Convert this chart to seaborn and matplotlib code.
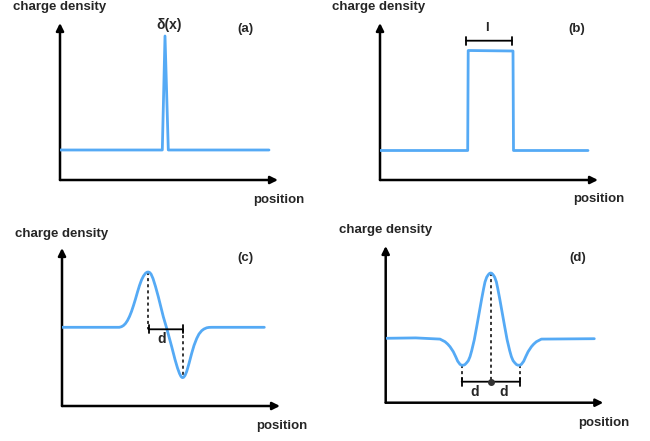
import matplotlib
matplotlib.use("Agg")
import matplotlib.pyplot as plt
import seaborn as sns
import pandas as pd

sns.set_style("white")
plt.rcParams['font.family'] = ['Liberation Sans', 'DejaVu Sans']

# ---------------- data (arbitrary units) ----------------
a_pos = [0, 102.3, 105, 108.3, 209]
a_dens = [30, 30, 144, 30, 30]

b_pos = [0, 87.7, 88.2, 133.0, 133.5, 208]
b_dens = [29.5, 29.5, 129.5, 129.0, 29.5, 29.5]

c_pos = [0, 57.3, 59.5, 61.5, 63.5, 65.5, 67.5, 69.5, 71.5, 73.5, 75.5, 77.5, 79.5,
         81.5, 83.5, 85, 86.3, 87.5, 89, 91, 93.5, 96.3, 99, 101.3, 104.7, 109.7,
         113, 115.5, 117.5, 119, 120.3, 121.5, 123, 124.7, 127, 129.7, 132, 134.7,
         137, 139.7, 142, 144.7, 147, 149.7, 202.3]
c_dens = [78.7, 78.7, 79.3, 80.5, 82.5, 85.5, 89.5, 94.5, 100.5, 107, 114, 120.5, 126,
          130, 132.7, 133.8, 134, 133.6, 132, 127.5, 119.5, 109.3, 98.5, 89.3, 77.7, 59.3,
          46.5, 38, 32.5, 29.5, 28.4, 28.6, 30.5, 34.5, 42.5, 52.7, 60.5, 67.5,
          72, 75.3, 77, 78.2, 78.6, 78.7, 78.7]

d_pos = [0, 30, 54.3, 59.3, 62, 64.3, 67.6, 70, 72, 74.3, 76, 78, 79.3, 81, 82.6,
         84.3, 86, 88.6, 91, 93.5, 96, 98, 99.3, 101, 102.6, 104, 105,
         106, 107.4, 109, 110.7, 112, 114, 116.5, 119, 121.4, 124, 125.7, 127.4,
         129, 130.7, 132, 134, 135.7, 138, 140, 142.4, 145.7, 148, 150.7, 155.7, 208.6]
d_dens = [64.4, 64.8, 63.6, 61, 58.6, 56, 51, 46, 41.5, 38.4, 37.4, 37.6, 38.2, 40, 42,
          46, 52, 63, 76, 90, 104, 114.5, 120.7, 125.5, 128, 129.4, 129.7,
          129.4, 128, 125.5, 120.7, 114.5, 104, 90, 76, 63, 52, 46, 42,
          40, 38.2, 37.6, 37.4, 38.4, 41.5, 46, 51, 56, 58.6, 61, 63.6, 64]

panel_labels = ["(a)", "(b)", "(c)", "(d)"]
ylabel_text = "charge density"
xlabel_text = "position"

# bracket / guide values
b_bracket = [86, 132, 139.3]          # x0, x1, y
c_bracket = [86.5, 120.5, 76.7]       # x0, x1, y
c_peak = [86.3, 134]
c_trough = [120.5, 28.4]
d_bracket = [76, 134, 21]
d_peak = [105, 129.7]
d_troughs = [[76, 37.4], [134, 37.4]]

# ---------------- layout ----------------
W, H = 650, 441
fig = plt.figure(figsize=(6.5, 4.41), dpi=100)
fig.patch.set_facecolor("white")

# origin x, origin y (pixels from top), width, height
boxes = [(60, 180, 218, 157), (380, 180, 218, 157),
         (62, 406, 218, 158), (385.7, 402.7, 217.6, 156.7)]

BLUE = "#55AAF5"
FS = 9.5

axes = []
for (ox, oy, w, h) in boxes:
    ax = fig.add_axes([ox / W, (H - oy) / H, w / W, h / H])
    ax.set_xlim(0, w)
    ax.set_ylim(0, h)
    ax.axis("off")
    ax.annotate("", xy=(1.0, 0), xytext=(0, 0), xycoords="axes fraction",
                arrowprops=dict(arrowstyle="-|>", lw=1.8, color="black",
                                mutation_scale=11, shrinkA=0, shrinkB=0))
    ax.annotate("", xy=(0, 1.0), xytext=(0, 0), xycoords="axes fraction",
                arrowprops=dict(arrowstyle="-|>", lw=1.8, color="black",
                                mutation_scale=11, shrinkA=0, shrinkB=0))
    axes.append(ax)

series = [(a_pos, a_dens), (b_pos, b_dens), (c_pos, c_dens), (d_pos, d_dens)]
for ax, (p, d) in zip(axes, series):
    df = pd.DataFrame({"position": p, "density": d})
    sns.lineplot(data=df, x="position", y="density", ax=ax, sort=False,
                 estimator=None, color=BLUE, lw=2.0, legend=False, zorder=3)
    ax.axis("off")

cd_pos = [(-47, 173), (-48, 173), (-47, 172), (-46.7, 172.7)]
pos_pos = [(193, -20), (193, -19), (194, -20), (192.6, -20)]
lab_pos = [(185, 151), (196.7, 151), (183, 148), (191.6, 145)]
for ax, cp, pp, lp, lab in zip(axes, cd_pos, pos_pos, lab_pos, panel_labels):
    ax.text(cp[0], cp[1], ylabel_text, fontsize=FS, fontweight="bold",
            ha="left", va="center", clip_on=False)
    ax.text(pp[0], pp[1], xlabel_text, fontsize=FS, fontweight="bold",
            ha="left", va="center", clip_on=False)
    ax.text(lp[0], lp[1], lab, fontsize=FS, fontweight="bold",
            ha="center", va="center", clip_on=False)

# (a) delta label
axes[0].text(109, 155, "δ(x)", fontsize=FS + 0.5, fontweight="bold", ha="center", va="center")

# (b) width bracket
ax = axes[1]
x0, x1, yb = b_bracket
ax.annotate("", xy=(x1, yb), xytext=(x0, yb),
            arrowprops=dict(arrowstyle="|-|", lw=1.3, color="black",
                            mutation_scale=3, shrinkA=0, shrinkB=0))
ax.text(106.7, 152, "l", fontsize=FS, fontweight="bold", ha="center", va="center")

# (c) guides
ax = axes[2]
x0, x1, yb = c_bracket
ax.plot([c_peak[0], c_peak[0]], [c_peak[1], yb], ls=(0, (2, 2)), color="black", lw=1.1)
ax.plot([c_trough[0], c_trough[0]], [yb, c_trough[1]], ls=(0, (2, 2)), color="black", lw=1.1)
ax.annotate("", xy=(x1, yb), xytext=(x0, yb),
            arrowprops=dict(arrowstyle="|-|", lw=1.3, color="black",
                            mutation_scale=3, shrinkA=0, shrinkB=0))
ax.text(99.7, 67, "d", fontsize=FS + 0.5, fontweight="bold", ha="center", va="center")

# (d) guides
ax = axes[3]
x0, x1, yb = d_bracket
for tx, ty in d_troughs:
    ax.plot([tx, tx], [ty, yb], ls=(0, (2, 2)), color="black", lw=1.1)
ax.plot([d_peak[0], d_peak[0]], [d_peak[1], yb], ls=(0, (2, 2)), color="black", lw=1.1)
ax.annotate("", xy=(x1, yb), xytext=(x0, yb),
            arrowprops=dict(arrowstyle="|-|", lw=1.3, color="black",
                            mutation_scale=3, shrinkA=0, shrinkB=0))
ax.plot([d_peak[0]], [yb], marker="o", ms=4, color="#333333", zorder=5)
ax.text(89, 10.7, "d", fontsize=FS + 0.5, fontweight="bold", ha="center", va="center")
ax.text(118.3, 10.7, "d", fontsize=FS + 0.5, fontweight="bold", ha="center", va="center")

fig.savefig("out.png", dpi=100, facecolor="white")
